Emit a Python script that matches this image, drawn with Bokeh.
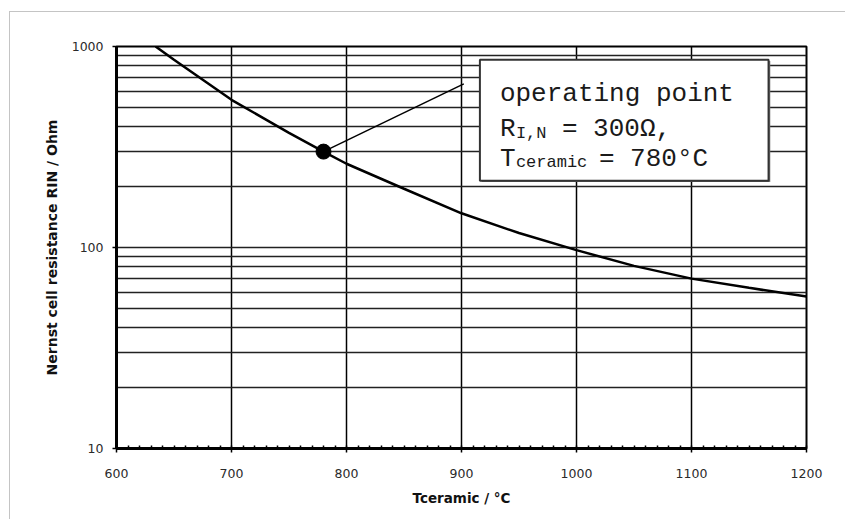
from bokeh.plotting import figure
from bokeh.models import Range1d, FixedTicker, NumeralTickFormatter
from bokeh.embed import file_html
from bokeh.resources import INLINE
from bokeh.core.properties import value

# ---- data ----
temp_c = [634, 650, 700, 750, 780, 800, 850, 900, 950, 1000, 1050, 1100, 1150, 1200]
r_ohm = [1000, 859, 543, 372, 300, 261, 196, 148, 118, 97, 81, 70, 63, 57]
op_temp = [780]
op_r = [300]
leader_temp = [780, 902]
leader_r = [300, 652]
x_major_ticks = [600, 700, 800, 900, 1000, 1100, 1200]
x_minor_ticks = list(range(600, 1201, 10))
y_major_ticks = [10, 100, 1000]
y_grid_values = [10, 20, 30, 40, 50, 60, 70, 80, 90, 100, 200, 300, 400, 500, 600, 700, 800, 900, 1000]
box_left, box_right, box_top, box_bottom = 916, 1167, 859, 215

p = figure(width=836, height=508, x_range=Range1d(600, 1200), y_range=Range1d(10, 1000),
           y_axis_type="log", output_backend="svg", toolbar_location=None,
           min_border_left=106, min_border_right=40, min_border_top=34, min_border_bottom=72)
p.styles = {"margin-left": "9px", "margin-top": "11px",
            "border-left": "1px solid #c4c4c4", "border-top": "1px solid #c4c4c4"}
p.background_fill_color = "white"
p.border_fill_color = "white"
p.outline_line_color = "black"
p.outline_line_width = 2

# axes
p.xaxis.ticker = FixedTicker(ticks=x_major_ticks, minor_ticks=x_minor_ticks)
p.yaxis.ticker = FixedTicker(ticks=y_major_ticks, minor_ticks=[])
p.yaxis.formatter = NumeralTickFormatter(format="0")
p.xaxis.formatter = NumeralTickFormatter(format="0")
for ax in (p.xaxis[0], p.yaxis[0]):
    ax.axis_line_color = "black"
    ax.axis_line_width = 3
    ax.major_tick_line_color = "black"
    ax.major_tick_line_width = 1.5
    ax.major_tick_out = 4
    ax.major_tick_in = 0
    ax.minor_tick_line_color = "black"
    ax.minor_tick_line_width = 1.5
    ax.major_label_text_font = "DejaVu Sans"
    ax.major_label_text_font_size = "12.5px"
    ax.major_label_text_color = "#2a2a2a"
    ax.axis_label_text_font = "DejaVu Sans"
    ax.axis_label_text_font_style = "bold"
    ax.axis_label_text_color = "#111111"
p.xaxis.minor_tick_in = 3
p.xaxis.minor_tick_out = 0
p.yaxis.minor_tick_in = 0
p.yaxis.minor_tick_out = 0
p.xaxis.major_label_standoff = 16
p.yaxis.major_label_standoff = 9
p.xaxis.axis_label = "Tceramic / °C"
p.xaxis.axis_label_text_font_size = "13.5px"
p.xaxis.axis_label_standoff = 9
p.yaxis.axis_label = "Nernst cell resistance RIN / Ohm"
p.yaxis.axis_label_text_font_size = "14px"
p.yaxis.axis_label_standoff = 9

# grids
p.xgrid.ticker = FixedTicker(ticks=x_major_ticks)
p.ygrid.ticker = FixedTicker(ticks=y_grid_values)
p.xgrid.grid_line_color = "black"
p.xgrid.grid_line_width = 1.5
p.ygrid.grid_line_color = "#222222"
p.ygrid.grid_line_width = 1.5

# curve, operating point and leader
p.line(temp_c, r_ohm, line_color="black", line_width=2.5)
p.line(leader_temp, leader_r, line_color="black", line_width=1.5)
p.scatter(op_temp, op_r, size=15, fill_color="black", line_color="black")

# annotation box
p.quad(left=[box_left + 1.5], right=[box_right + 1.5], top=[box_top * 0.985], bottom=[box_bottom * 0.985],
       fill_color="#777777", line_color=None)
p.quad(left=[box_left], right=[box_right], top=[box_top], bottom=[box_bottom],
       fill_color="white", line_color="#333333", line_width=2)

mono = value("Liberation Mono")
big = "26px"
small = "17px"
col = "#1a1a1a"
def txt(s, dx, dy, size):
    p.text(x=[box_left], y=[box_top], text=[s], x_offset=dx, y_offset=dy,
           text_font=mono, text_font_size=size, text_color=col, text_baseline="alphabetic")

txt("operating point", 20, 34, big)
txt("R", 20, 69, big)
txt("I,N", 36, 74, small)
txt("= 300Ω,", 82, 69, big)
txt("T", 20, 99, big)
txt("ceramic", 36, 103, small)
txt("= 780°C", 119, 99, big)

open("out.html", "w").write(file_html(p, INLINE))
